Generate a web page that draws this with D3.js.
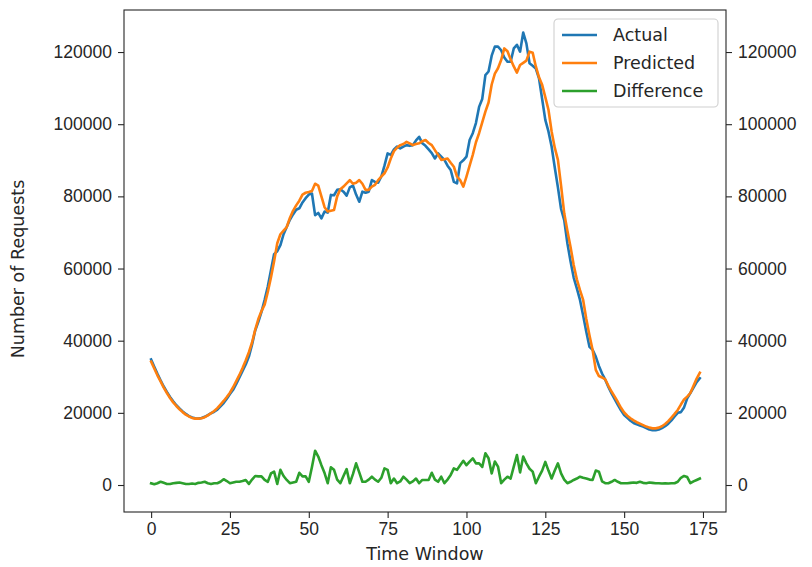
<!DOCTYPE html>
<html>
<head>
<meta charset="utf-8">
<script src="https://cdn.jsdelivr.net/npm/d3@7"></script>
<style>
  body { margin: 0; background: #fff; }
  svg { font-family: "DejaVu Sans", sans-serif; }
  .axis text { font-size: 17.5px; fill: #262626; }
  .axis path, .axis line { stroke: #262626; stroke-width: 1.1px; }
</style>
</head>
<body>
<svg id="chart" width="812" height="567"></svg>
<script>
// values, one per time window (0..174)
var actual = [
  34800, 32800, 30800, 29000, 27300, 25800, 24400, 23200, 22100, 21200,
  20400, 19700, 19100, 18700, 18500, 18400, 18600, 18900, 19400, 19900,
  20300, 20900, 21800, 22700, 23900, 25200, 26400, 28000, 29800, 31600,
  33400, 35600, 38900, 42800, 45200, 48000, 51300, 55000, 59500, 64000,
  64800, 66500, 69500, 71500, 73500, 75000, 76300, 76700, 78300, 79500,
  80500, 80800, 74800, 75400, 73900, 75800, 75500, 80400, 80300, 81800,
  82000, 81300, 80200, 82500, 83000, 80500, 78500, 81300, 81000, 81300,
  84500, 84000, 83800, 85500, 88500, 91900, 91500, 93000, 93800, 93300,
  93800, 94200, 94000, 94200, 95500, 96500, 94700, 94000, 93000, 92000,
  90500, 91900, 91000, 90100, 88500, 87300, 84000, 83600, 89200, 90000,
  91000, 95600, 97500, 100300, 104800, 107000, 113600, 114600, 119000, 121500,
  121500, 120500, 118500, 117300, 117300, 121000, 122000, 120100, 125400, 122400,
  116900, 116200, 115400, 112700, 107000, 101200, 98000, 93800, 88000, 82500,
  76500, 73400, 67000, 62000, 57500, 54500, 51300, 47000, 42500, 38300,
  37500, 35600, 33000, 30900, 29200, 27200, 25400, 23800, 22200, 20700,
  19400, 18600, 17800, 17200, 16800, 16500, 16200, 15800, 15400, 15200,
  15200, 15400, 15800, 16300, 17000, 17900, 19000, 20000, 20200, 21500,
  24000, 25500, 27000, 28500, 29600
];

var predicted = [
  34200, 32300, 30400, 28700, 27000, 25500, 24100, 22900, 21900, 21000,
  20200, 19500, 19000, 18600, 18400, 18400, 18500, 18800, 19300, 19900,
  20500, 21300, 22300, 23300, 24400, 25600, 27100, 28800, 30500, 32400,
  34500, 36800, 39500, 43000, 46000, 48200, 50000, 53500, 57500, 62000,
  67000, 69500, 70500, 71500, 74000, 76000, 77500, 78800, 80500, 81000,
  81200, 81500, 83500, 83000, 80000, 77000, 75800, 76000, 76200, 80000,
  82000, 82700, 83600, 84500, 83500, 83800, 84500, 83500, 81800, 81800,
  82700, 83200, 84500, 85500, 86400, 88000, 90500, 92500, 93500, 94200,
  94500, 95100, 94700, 94200, 94500, 94700, 95300, 95600, 94800, 94200,
  92800, 91500, 90100, 90300, 90500, 89300, 88200, 85500, 84500, 82700,
  85500, 88500, 91500, 95000, 97500, 100500, 103500, 106000, 111000, 114000,
  115500, 117800, 121000, 120200, 118000, 116000, 114300, 116400, 117000, 117600,
  120100, 119800, 116000, 113000, 110900, 107500, 104000, 98000, 93500, 90100,
  83000, 75300, 70500, 66000, 61000, 57000, 54000, 51300, 46000, 41500,
  37400, 31900, 30200, 29800, 29300, 27500, 25900, 24500, 23000, 21400,
  20100, 19200, 18500, 17900, 17400, 17000, 16600, 16200, 15900, 15700,
  15700, 15900, 16300, 16900, 17700, 18700, 19700, 20800, 22300, 23700,
  24500, 25500, 27500, 29500, 31100
];

var difference = [
  470, 200, 500, 900, 600, 300, 300, 500, 600, 700,
  500, 300, 300, 400, 300, 600, 700, 900, 500, 300,
  500, 500, 900, 1600, 1100, 500, 700, 900, 900, 1100,
  1400, 300, 1500, 2500, 2400, 2400, 1400, 900, 3200, 3700,
  300, 4200, 2500, 1400, 500, 700, 900, 3400, 2400, 2400,
  900, 5000, 9500, 7900, 5500, 3300, 500, 4900, 4200, 1500,
  500, 2500, 4400, 500, 3000, 6000, 3500, 900, 900, 1500,
  2300, 1500, 900, 2000, 4600, 4200, 500, 1800, 500, 1000,
  2300, 1500, 500, 1000, 1800, 500, 1400, 1400, 1400, 3400,
  1500, 900, 2300, 500, 1500, 2800, 4600, 4200, 5500, 6700,
  5500, 6500, 7400, 6000, 6000, 5000, 8800, 7400, 3200, 6500,
  5100, 500, 1500, 2300, 1800, 5100, 8300, 3500, 7900, 6000,
  4500, 3700, 500, 2300, 4000, 6400, 4000, 1800, 4000, 6000,
  3200, 1500, 500, 900, 1400, 1800, 2300, 2000, 1800, 1500,
  1400, 4000, 3700, 1000, 500, 500, 900, 1400, 900, 500,
  500, 500, 600, 700, 600, 900, 600, 500, 700, 600,
  500, 500, 400, 500, 400, 500, 500, 900, 2000, 2500,
  2200, 500, 1000, 1400, 1800
];

var seriesNames = ["Actual", "Predicted", "Difference"];
var seriesColors = ["#1f77b4", "#ff7f0e", "#2ca02c"];
var xTicks = [0, 25, 50, 75, 100, 125, 150, 175];
var yTicks = [0, 20000, 40000, 60000, 80000, 100000, 120000];

var margin = {left: 124, right: 86, top: 10, bottom: 55};
var svg = d3.select("#chart");
var width = 812 - margin.left - margin.right;
var height = 567 - margin.top - margin.bottom;

var g = svg.append("g")
  .attr("transform", "translate(" + margin.left + "," + margin.top + ")");

var xScale = d3.scaleLinear()
  .domain([-8.6, 182.3])
  .range([0, width]);

var yScale = d3.scaleLinear()
  .domain([-7480, 131650])
  .range([height, 0]);

var line = d3.line()
  .x(function(d, i){ return xScale(i); })
  .y(function(d){ return yScale(d); });

var data = [actual, predicted, difference];

g.selectAll(".series")
  .data(data)
  .enter()
  .append("path")
  .attr("class", "series")
  .attr("fill", "none")
  .attr("stroke", function(d, i){ return seriesColors[i]; })
  .attr("stroke-width", 2.6)
  .attr("stroke-linejoin", "round")
  .attr("stroke-linecap", "square")
  .attr("d", line);

// axes
var xAxis = d3.axisBottom(xScale).tickValues(xTicks).tickSize(6).tickPadding(5)
  .tickFormat(d3.format("d"));
var yAxis = d3.axisLeft(yScale).tickValues(yTicks).tickSize(6).tickPadding(6)
  .tickFormat(d3.format("d"));
var yAxisRight = d3.axisRight(yScale).tickValues(yTicks).tickSize(6).tickPadding(6)
  .tickFormat(d3.format("d"));

g.append("g").attr("class", "axis x-axis")
  .attr("transform", "translate(0," + height + ")")
  .call(xAxis);
g.append("g").attr("class", "axis y-axis").call(yAxis);
g.append("g").attr("class", "axis y-axis-right")
  .attr("transform", "translate(" + width + ",0)")
  .call(yAxisRight);

g.selectAll(".axis .domain").remove();

// frame
g.append("rect")
  .attr("width", width)
  .attr("height", height)
  .attr("fill", "none")
  .attr("stroke", "#262626")
  .attr("stroke-width", 1.1);

// axis labels
g.append("text")
  .attr("x", width / 2)
  .attr("y", height + 48)
  .attr("text-anchor", "middle")
  .attr("font-size", "17.5px")
  .attr("fill", "#262626")
  .text("Time Window");

g.append("text")
  .attr("transform", "translate(" + (-100) + "," + (height / 2 + 8) + ") rotate(-90)")
  .attr("text-anchor", "middle")
  .attr("font-size", "17.5px")
  .attr("fill", "#262626")
  .text("Number of Requests");

// legend
var legend = g.append("g")
  .attr("transform", "translate(" + (width - 172) + ",9)");

legend.append("rect")
  .attr("width", 164)
  .attr("height", 88)
  .attr("rx", 4)
  .attr("fill", "#fff")
  .attr("fill-opacity", 0.8)
  .attr("stroke", "#d0d0d0")
  .attr("stroke-width", 1.1);

var items = legend.selectAll(".legend-item")
  .data(seriesNames)
  .enter()
  .append("g")
  .attr("class", "legend-item")
  .attr("transform", function(d, i){ return "translate(8," + (16 + i * 28) + ")"; });

items.append("line")
  .attr("x1", 0)
  .attr("x2", 35)
  .attr("stroke", function(d, i){ return seriesColors[i]; })
  .attr("stroke-width", 2.6);

items.append("text")
  .attr("x", 51)
  .attr("dy", "0.35em")
  .attr("font-size", "17.5px")
  .attr("fill", "#262626")
  .text(function(d){ return d; });
</script>
</body>
</html>
